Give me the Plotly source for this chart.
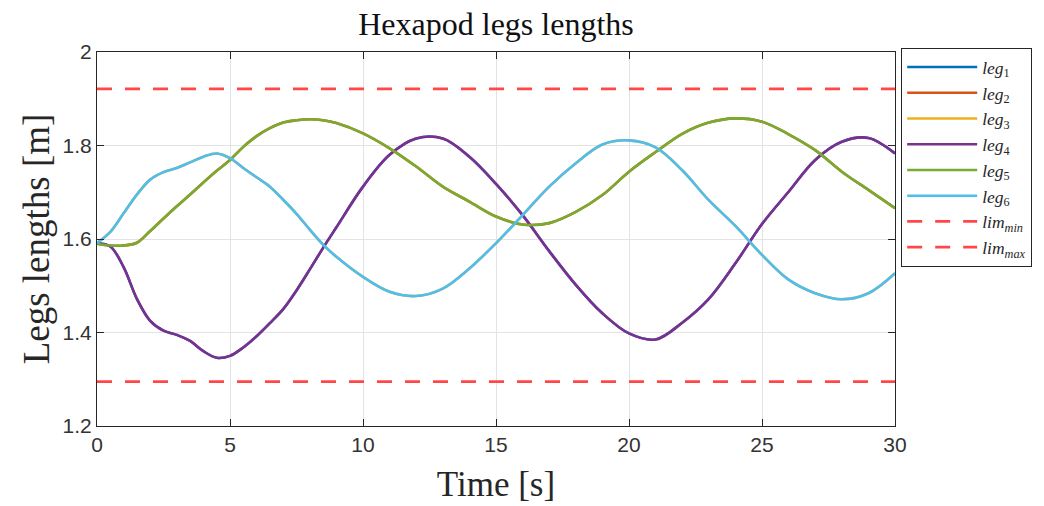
import plotly.graph_objects as go

# Time samples [s]
time_s = [0, 0.5, 1, 1.5, 2, 2.5, 3, 3.5, 4, 4.5, 5, 5.5, 6, 6.5, 7, 7.5, 8, 8.5, 9,
          10, 11, 12, 13, 14, 15, 16, 17, 18, 19, 20, 21, 22, 23, 24, 25, 26, 27, 28, 29, 30]

# Leg lengths [m]
leg4 = [1.591, 1.584, 1.540, 1.472, 1.425, 1.404, 1.395, 1.382, 1.360, 1.346, 1.350, 1.368, 1.392,
        1.420, 1.450, 1.490, 1.535, 1.581, 1.625, 1.712, 1.780, 1.815, 1.815, 1.776, 1.718, 1.651,
        1.574, 1.502, 1.441, 1.398, 1.385, 1.421, 1.472, 1.548, 1.632, 1.701, 1.769, 1.808, 1.816, 1.783]
leg5 = [1.590, 1.586, 1.586, 1.592, 1.617, 1.644, 1.670, 1.695, 1.721, 1.746, 1.769, 1.797, 1.820,
        1.837, 1.849, 1.854, 1.856, 1.854, 1.848, 1.826, 1.794, 1.755, 1.712, 1.680, 1.648, 1.631,
        1.634, 1.658, 1.694, 1.744, 1.786, 1.825, 1.849, 1.858, 1.851, 1.824, 1.790, 1.744, 1.705, 1.666]
leg6 = [1.591, 1.615, 1.655, 1.695, 1.727, 1.743, 1.752, 1.764, 1.776, 1.783, 1.773, 1.752, 1.732,
        1.712, 1.684, 1.654, 1.620, 1.588, 1.562, 1.519, 1.487, 1.478, 1.494, 1.537, 1.591, 1.651,
        1.712, 1.762, 1.802, 1.811, 1.796, 1.747, 1.683, 1.628, 1.566, 1.513, 1.484, 1.471, 1.484, 1.527]
# Legs 1-3 follow the same lengths as legs 4-6 and are drawn underneath them
leg1 = leg4
leg2 = leg5
leg3 = leg6

lim_min = 1.295
lim_max = 1.921

legs = [leg1, leg2, leg3, leg4, leg5, leg6]
colors = ["#0072BD", "#D95319", "#EDB120", "#7E2F8E", "#77AC30", "#4DBEEE"]

fig = go.Figure()
for i, (vals, col) in enumerate(zip(legs, colors), start=1):
    fig.add_trace(go.Scatter(
        x=time_s, y=vals, mode="lines", name=f"<i>leg</i><sub>{i}</sub>",
        line=dict(color=col, width=2.6, shape="spline", smoothing=1.0),
    ))

red = "#FF4747"
fig.add_trace(go.Scatter(
    x=[time_s[0], time_s[-1]], y=[lim_min, lim_min], mode="lines",
    name="<i>lim</i><sub><i>min</i></sub>",
    line=dict(color=red, width=2.8, dash="15px,13px"),
))
fig.add_trace(go.Scatter(
    x=[time_s[0], time_s[-1]], y=[lim_max, lim_max], mode="lines",
    name="<i>lim</i><sub><i>max</i></sub>",
    line=dict(color=red, width=2.8, dash="15px,13px"),
))

serif = "Liberation Serif, DejaVu Serif, serif"
axis_common = dict(
    showline=True, linecolor="#262626", linewidth=1.2, mirror="ticks",
    ticks="inside", ticklen=7, tickcolor="#262626", tickwidth=1.2,
    showgrid=True, gridcolor="#E3E3E3", gridwidth=1, zeroline=False,
    tickfont=dict(family="Liberation Sans, Arial, sans-serif", size=21, color="#333333"),
)

fig.update_layout(
    width=1044, height=506,
    margin=dict(l=97, r=149, t=52, b=80, autoexpand=False),
    paper_bgcolor="white", plot_bgcolor="white",
    title=dict(text="Hexapod legs lengths", x=0.5, xref="paper", xanchor="center",
               y=0.953, yref="container", yanchor="middle",
               font=dict(family=serif, size=32, color="#111111")),
    xaxis=dict(range=[0, 30], tickvals=[0, 5, 10, 15, 20, 25, 30],
               title=dict(text="Time [s]", standoff=16,
                          font=dict(family=serif, size=35, color="#262626")),
               **axis_common),
    yaxis=dict(range=[1.2, 2.0], tickvals=[1.2, 1.4, 1.6, 1.8, 2.0],
               ticktext=["1.2", "1.4", "1.6", "1.8", "2"],
               title=dict(text="Legs lengths [m]", standoff=1,
                          font=dict(family=serif, size=37, color="#262626")),
               **axis_common),
    legend=dict(x=1.0075, xanchor="left", y=1.011, yanchor="top",
                bordercolor="#262626", borderwidth=1.2, bgcolor="white",
                font=dict(family=serif, size=17.5, color="#262626"),
                itemwidth=70, tracegroupgap=0),
    showlegend=True,
)

fig.write_html("out.html")
